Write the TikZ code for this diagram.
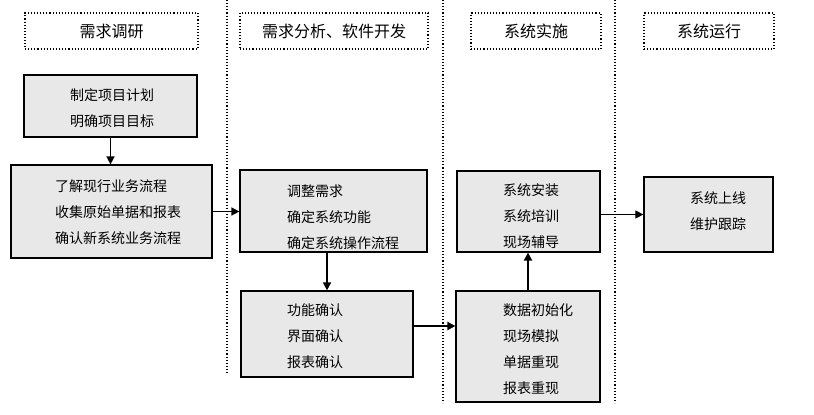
\documentclass[tikz,border=0pt]{standalone}
\usepackage{fontspec}
\setmainfont{Noto Sans CJK SC}
\usetikzlibrary{arrows.meta}
\newcommand{\boxfill}{gray!18}

\begin{document}
\begin{tikzpicture}[x=1pt,y=-1pt,
    stage/.style={draw, line width=1.1pt, dash pattern=on 1.1pt off 2pt,
        inner sep=0pt, minimum height=36pt,
        font=\fontsize{16}{16}\selectfont},
    task/.style={draw, line width=1.2pt, fill=\boxfill, inner sep=0pt},
    txt/.style={anchor=west, align=left, inner sep=0pt,
        font=\fontsize{14}{26}\selectfont},
    divider/.style={line width=1.1pt, dash pattern=on 1.1pt off 2pt},
    flow/.style={-{Triangle[length=8pt,width=8pt]}, line width=1.5pt}]

\useasboundingbox (0,0) rectangle (814,415);

% column dividers
\draw[divider] (227,0) -- (227,373);
\draw[divider] (443,0) -- (443,403);
\draw[divider] (615,0) -- (615,403);

% stage headers
\node[stage, minimum width=173pt] (hResearch) at (111.5,31) {需求调研};
\node[stage, minimum width=188pt] (hDevelop)  at (334,31)   {需求分析、软件开发};
\node[stage, minimum width=130pt] (hDeploy)   at (536,31)   {系统实施};
\node[stage, minimum width=130pt] (hRun)      at (709,31)   {系统运行};

% research column
\node[task, minimum width=173pt, minimum height=62pt] (plan) at (110.5,106) {};
\node[txt] (planText) at (70,108) {制定项目计划\\明确项目目标};
\node[task, minimum width=201pt, minimum height=93pt] (survey) at (111.5,211.5) {};
\node[txt] (surveyText) at (55,212)
    {了解现行业务流程\\收集原始单据和报表\\确认新系统业务流程};

% development column
\node[task, minimum width=187pt, minimum height=82pt] (adjust) at (333.5,211) {};
\node[txt] (adjustText) at (287,217)
    {调整需求\\确定系统功能\\确定系统操作流程};
\node[task, minimum width=172pt, minimum height=86pt] (confirm) at (327,334) {};
\node[txt] (confirmText) at (287,336) {功能确认\\界面确认\\报表确认};

% deployment column
\node[task, minimum width=144pt, minimum height=111pt] (init) at (528,346.5) {};
\node[txt] (initText) at (503,349)
    {数据初始化\\现场模拟\\单据重现\\报表重现};
\node[task, minimum width=143pt, minimum height=81pt] (install) at (528.5,211.5) {};
\node[txt] (installText) at (503,216) {系统安装\\系统培训\\现场辅导};

% running column
\node[task, minimum width=129pt, minimum height=75pt] (online) at (708.5,214.5) {};
\node[txt] (onlineText) at (690,211) {系统上线\\维护跟踪};

% flow arrows
\draw[flow] (plan.south) -- (plan.south |- survey.north);
\draw[flow] (survey.east) -- (survey.east -| adjust.west);
\draw[flow] (confirm.north |- adjust.south) -- (confirm.north);
\draw[flow, line width=2.5pt] ([yshift=8pt]confirm.east)
    -- ([yshift=8pt]confirm.east -| init.west);
\draw[flow, line width=2pt] (init.north) -- (init.north |- install.south);
\draw[flow, line width=1pt] (online.west -| install.east) -- (online.west);

\end{tikzpicture}
\end{document}
